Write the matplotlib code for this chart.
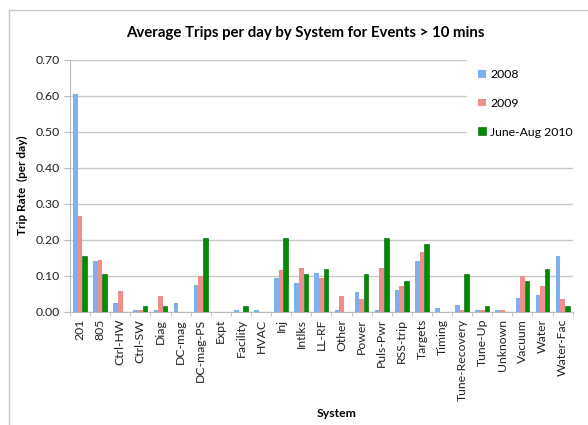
import numpy as np
import matplotlib.pyplot as plt
from matplotlib.lines import Line2D

# Trip rates per system, for the three periods
systems = ['201', '805', 'Ctrl-HW', 'Ctrl-SW', 'Diag', 'DC-mag', 'DC-mag-PS', 'Expt',
           'Facility', 'HVAC', 'Inj', 'Intlks', 'LL-RF', 'Other', 'Power', 'Puls-Pwr',
           'RSS-trip', 'Targets', 'Timing', 'Tune-Recovery', 'Tune-Up', 'Unknown',
           'Vacuum', 'Water', 'Water-Fac']
rate_2008 = [0.605, 0.141, 0.026, 0.006, 0.006, 0.026, 0.074, 0.0,
             0.006, 0.006, 0.094, 0.081, 0.108, 0.006, 0.054, 0.006,
             0.061, 0.141, 0.012, 0.019, 0.006, 0.006, 0.040, 0.046, 0.155]
rate_2009 = [0.266, 0.143, 0.057, 0.006, 0.043, 0.0, 0.100, 0.0,
             0.0, 0.0, 0.115, 0.122, 0.094, 0.043, 0.036, 0.122,
             0.072, 0.165, 0.0, 0.006, 0.006, 0.006, 0.100, 0.071, 0.036]
rate_2010 = [0.154, 0.104, 0.0, 0.017, 0.017, 0.0, 0.205, 0.0,
             0.017, 0.0, 0.205, 0.104, 0.120, 0.0, 0.104, 0.205,
             0.086, 0.189, 0.0, 0.104, 0.017, 0.0, 0.086, 0.120, 0.017]
series_names = ['2008', '2009', 'June-Aug 2010']

plt.rcParams['font.family'] = ['Lato', 'DejaVu Sans']

fig = plt.figure(figsize=(5.88, 4.25), dpi=100)
ax = fig.add_axes([0.119, 0.266, 0.855, 0.594])

x = np.arange(len(systems))
w = 0.23
ax.bar(x - w, rate_2008, w, color='#7fb0ee', label=series_names[0], zorder=3)
ax.bar(x, rate_2009, w, color='#ef8f8c', label=series_names[1], zorder=3)
ax.bar(x + w, rate_2010, w, color='#008c00', edgecolor='#005a00', linewidth=0.4,
       label=series_names[2], zorder=3)

ax.set_xlim(-0.5, len(systems) - 0.5)
ax.set_ylim(0, 0.70)
yt = np.arange(0, 0.71, 0.1)
ax.set_yticks(yt)
ax.set_yticklabels([f'{v:.2f}' for v in yt], fontsize=8.8, color='#222222')
ax.set_xticks(x)
ax.set_xticklabels(systems, rotation=90, fontsize=8.8, color='#222222')
ax.set_xticks(np.arange(-0.5, len(systems), 1), minor=True)
ax.tick_params(axis='x', which='major', length=0, pad=5)
ax.tick_params(axis='x', which='minor', length=3, color='#bbbbbb', direction='out')
ax.tick_params(axis='y', length=4, color='#bbbbbb', direction='out', pad=3)

ax.yaxis.grid(True, color='#c8c8c8', linewidth=1.0, zorder=0)
for side in ['top', 'right']:
    ax.spines[side].set_visible(False)
ax.spines['left'].set_color('#bbbbbb')
ax.spines['bottom'].set_color('#bbbbbb')

ax.set_ylabel('Trip Rate  (per day)', fontsize=8.5, fontweight='bold', labelpad=6)
ax.set_xlabel('System', fontsize=8.8, fontweight='bold', labelpad=0)
ax.xaxis.set_label_coords(0.53, -0.38)
fig.text(0.519, 0.922, 'Average Trips per day by System for Events > 10 mins',
         ha='center', va='center', fontsize=10.8, fontweight='bold')

leg = ax.legend(loc='upper right', bbox_to_anchor=(1.025, 1.01), frameon=True,
                fontsize=8.8, labelspacing=1.45, handlelength=0.6, handleheight=0.6,
                handletextpad=0.4, borderpad=0.9, borderaxespad=0.1)
leg.get_frame().set_facecolor('white')
leg.get_frame().set_edgecolor('white')
leg.get_frame().set_alpha(1.0)

# chart frame along the top and left edges
fig.add_artist(Line2D([9 / 588, 9 / 588], [0, 1 - 10 / 425], color='#c8c8c8', lw=1))
fig.add_artist(Line2D([9 / 588, 1], [1 - 10 / 425, 1 - 10 / 425], color='#c8c8c8', lw=1))

fig.savefig('out.png', dpi=100)
